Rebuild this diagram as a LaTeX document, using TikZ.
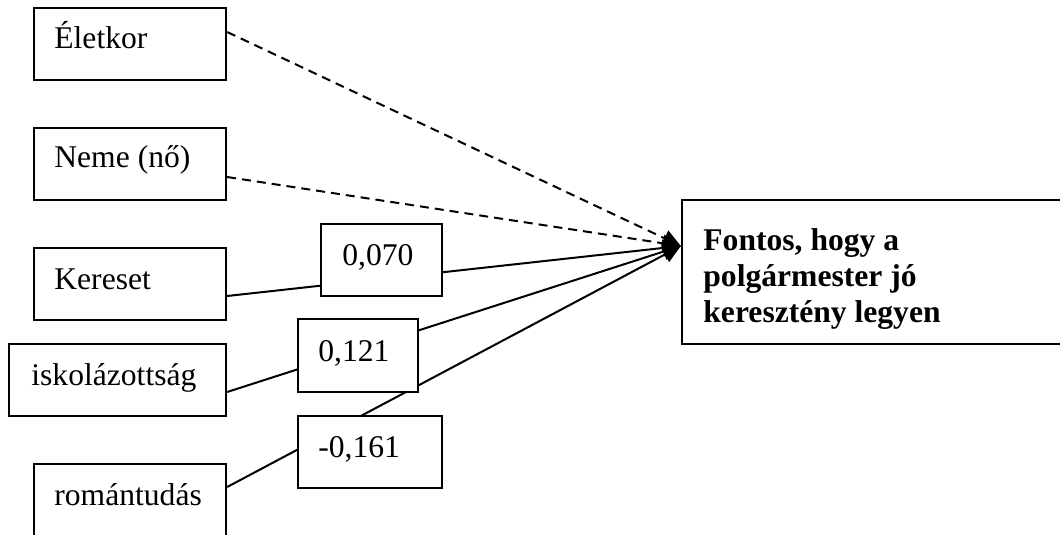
\documentclass[tikz,border=0pt]{standalone}
\usepackage{fontspec}
\setmainfont{Liberation Serif}
\usetikzlibrary{calc,arrows.meta}
\tikzset{
  box/.style={draw, line width=1.15pt, inner sep=0pt, fill=white},
  lbl/.style={anchor=base west, inner sep=0pt, font=\fontsize{15.8}{17.8}\selectfont},
  conn/.style={line width=1pt, -{Triangle[length=9pt,width=8.5pt]}},
  dconn/.style={conn, dash pattern=on 4.5pt off 3pt},
}
\begin{document}
\begin{tikzpicture}[x=0.5pt,y=-0.5pt]
\useasboundingbox (0,0) rectangle (1060,535);
\clip (0,0) rectangle (1060,535);
% source boxes
\node[box, minimum width=96pt, minimum height=36pt] (eletkor) at (130,44) {};
\node[box, minimum width=96pt, minimum height=36pt] (neme) at (130,164) {};
\node[box, minimum width=96pt, minimum height=36pt] (kereset) at (130,284) {};
\node[box, minimum width=108.5pt, minimum height=36pt] (iskola) at (117.5,380) {};
\node[box, minimum width=96pt, minimum height=40.5pt] (roman) at (130,504.5) {};
% target box
\node[box, minimum width=196.5pt, minimum height=72pt] (tgt) at (878.5,272) {};
\coordinate (tip) at ($(tgt.west)+(0,-26)$);
% connectors
\draw[dconn] ($(eletkor.east)+(0,-12)$) -- (tip);
\draw[dconn] ($(neme.east)+(0,13)$) -- (tip);
\draw[conn] ($(kereset.east)+(0,12)$) -- (tip);
\draw[conn] ($(iskola.east)+(0,12)$) -- (tip);
\draw[conn] ($(roman.east)+(0,-17.5)$) -- (tip);
% coefficient boxes
\node[box, minimum width=60.5pt, minimum height=36pt] (l070) at (381.5,260) {};
\node[box, minimum width=60pt, minimum height=36.5pt] (l121) at (358,355.5) {};
\node[box, minimum width=72pt, minimum height=36pt] (l161) at (370,452) {};
% texts
\node[lbl] (teletkor) at (54,49) {Életkor};
\node[lbl] (tneme) at (54,168) {Neme (nő)};
\node[lbl] (tkereset) at (54,289) {Kereset};
\node[lbl] (tiskola) at (31,385) {iskolázottság};
\node[lbl] (troman) at (54,505) {romántudás};
\node[lbl] (t070) at (342,265) {0,070};
\node[lbl] (t121) at (318,361) {0,121};
\node[lbl] (t161) at (318,457) {-0,161};
\node[lbl, font=\fontsize{15.8}{17.8}\selectfont\bfseries, align=left] (ttgt) at (703,322) {Fontos, hogy a\\polgármester jó\\keresztény legyen};
\end{tikzpicture}
\end{document}
